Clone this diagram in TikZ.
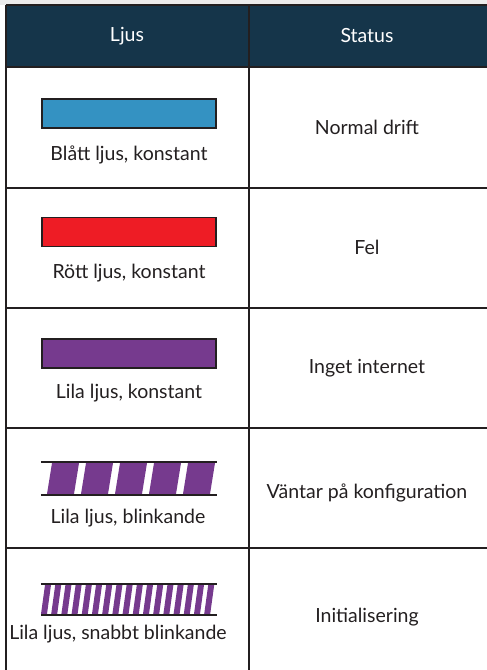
\documentclass[tikz,border=0pt]{standalone}
\usepackage{fontspec}
\setmainfont{Lato}
\usetikzlibrary{positioning}
\definecolor{headblue}{HTML}{15354A}
\definecolor{linegray}{HTML}{231F20}
\definecolor{ljusblue}{HTML}{3492C2}
\definecolor{ljusred}{HTML}{EE1C25}
\definecolor{ljuslila}{HTML}{763A8E}

\begin{document}
\begin{tikzpicture}[x=1pt,y=-1pt,
  main node/.style={font=\fontsize{19.5}{23}\selectfont,text=linegray,inner sep=0pt},
  head node/.style={main node,text=white},
  bar/.style={draw=linegray,line width=1.8pt,minimum width=174pt,minimum height=29pt,inner sep=0pt},
  blinkbar/.style={minimum width=176pt,minimum height=33pt,inner sep=0pt},
  rule/.style={draw=linegray,line width=2.2pt}]
  \useasboundingbox (0,0) rectangle (487,670);
  \fill[gray!15] (0,0) rectangle (487,5);
  \fill[headblue] (5,5) rectangle (487,67);

  % table lines
  \coordinate (tl) at (6,5);
  \coordinate (tr) at (487,5);
  \coordinate (bl) at (6,670);
  \coordinate (mt) at (249,5);
  \coordinate (mb) at (249,670);
  \draw[rule] (tl) -- (tr);
  \draw[rule] (tl) -- (bl);
  \draw[rule] (mt) -- (mb);
  \foreach \y in {67,188,308,428,548}
    \draw[rule] (5,\y) -- (487,\y);

  % header
  \node[head node] (ljus)   at (127,36) {Ljus};
  \node[head node] (status) at (367,36) {Status};

  % constant lights
  \node[bar,fill=ljusblue] (blue)   at (129,113.5) {};
  \node[bar,fill=ljusred]  (red)    at (129,232)   {};
  \node[bar,fill=ljuslila] (purple) at (129,353.5) {};
  \node[main node] (bluetxt)   [below=17pt of blue]   {Blått ljus, konstant};
  \node[main node] (redtxt)    [below=17pt of red]    {Rött ljus, konstant};
  \node[main node] (purpletxt) [below=15pt of purple] {Lila ljus, konstant};

  % blinking lights
  \node[blinkbar] (blink) at (129,478.5) {};
  \foreach \i in {0,...,4}
    \fill[ljuslila] ({52+34*\i},463) -- ({79+34*\i},463)
      -- ({74+34*\i},494) -- ({47+34*\i},494) -- cycle;
  \draw[linegray,line width=1.6pt] (blink.north west) -- (blink.north east);
  \draw[linegray,line width=1.6pt] (blink.south west) -- (blink.south east);
  \node[main node] (blinktxt) at (128,518) {Lila ljus, blinkande};

  \node[blinkbar,minimum height=31pt] (fast) at (129,599.5) {};
  \foreach \i in {0,...,16}
    \fill[ljuslila] ({45+10.2*\i},585) -- ({51+10.2*\i},585)
      -- ({47+10.2*\i},614) -- ({41+10.2*\i},614) -- cycle;
  \draw[linegray,line width=1.6pt] (fast.north west) -- (fast.north east);
  \draw[linegray,line width=1.6pt] (fast.south west) -- (fast.south east);
  \node[main node] (fasttxt) at (118,634) {Lila ljus, snabbt blinkande};

  % status column
  \node[main node] (drift)  at (367,127) {Normal drift};
  \node[main node] (fel)    at (367,247) {Fel};
  \node[main node] (inget)  at (367,368) {Inget internet};
  \node[main node] (vantar) at (367,493) {Väntar på konfiguration};
  \node[main node] (init)   at (367,617) {Initialisering};
\end{tikzpicture}
\end{document}
